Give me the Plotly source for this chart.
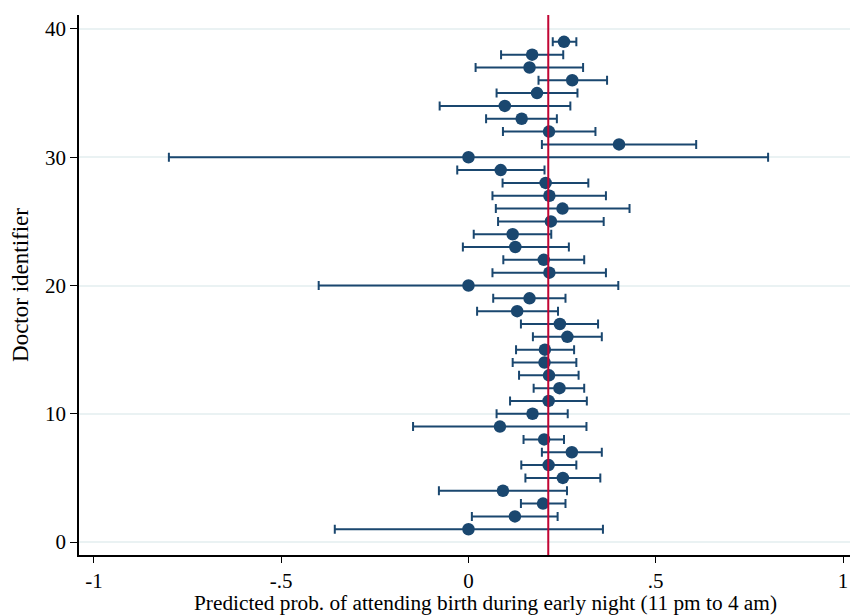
import plotly.graph_objects as go

doctor_ids = list(range(1, 40))
estimates = [0.000, 0.124, 0.199, 0.092, 0.252, 0.214, 0.276, 0.202, 0.084, 0.171,
             0.214, 0.243, 0.215, 0.203, 0.204, 0.264, 0.244, 0.130, 0.163, 0.000,
             0.216, 0.201, 0.125, 0.118, 0.220, 0.251, 0.216, 0.206, 0.086, 0.000,
             0.402, 0.215, 0.142, 0.097, 0.183, 0.277, 0.163, 0.170, 0.255]
lower_ci = [-0.357, 0.009, 0.140, -0.079, 0.152, 0.141, 0.196, 0.147, -0.148, 0.075,
            0.111, 0.174, 0.135, 0.118, 0.127, 0.172, 0.140, 0.023, 0.066, -0.400,
            0.064, 0.093, -0.015, 0.014, 0.079, 0.073, 0.064, 0.091, -0.030, -0.800,
            0.196, 0.092, 0.047, -0.077, 0.075, 0.187, 0.019, 0.087, 0.225]
upper_ci = [0.359, 0.238, 0.259, 0.263, 0.352, 0.288, 0.356, 0.255, 0.315, 0.265,
            0.316, 0.309, 0.294, 0.288, 0.282, 0.356, 0.346, 0.239, 0.259, 0.400,
            0.367, 0.309, 0.268, 0.221, 0.361, 0.430, 0.367, 0.320, 0.203, 0.800,
            0.608, 0.339, 0.236, 0.272, 0.291, 0.370, 0.306, 0.253, 0.288]
overall_mean = 0.213
x_ticks = [-1, -0.5, 0, 0.5, 1]
x_tick_labels = ["-1", "-.5", "0", ".5", "1"]
y_ticks = [0, 10, 20, 30, 40]
x_title = "Predicted prob. of attending birth during early night (11 pm to 4 am)"
y_title = "Doctor identifier"

navy = "#1a476f"
plus = [u - e for u, e in zip(upper_ci, estimates)]
minus = [e - l for e, l in zip(estimates, lower_ci)]

fig = go.Figure()
fig.add_trace(go.Scatter(
    x=estimates, y=doctor_ids, mode="markers",
    marker=dict(color=navy, size=12.5, line=dict(width=0)),
    error_x=dict(type="data", symmetric=False, array=plus, arrayminus=minus,
                 color=navy, thickness=2, width=4.5),
    showlegend=False,
))
fig.add_shape(type="line", xref="x", yref="paper", x0=overall_mean, x1=overall_mean,
              y0=0, y1=1, line=dict(color="#c10534", width=2), layer="above")

fig.add_annotation(text=x_title, xref="paper", yref="paper", x=0.5266, y=-0.1148,
                   xanchor="center", yanchor="bottom", showarrow=False,
                   font=dict(size=21.3))

font_family = "Liberation Serif, Times New Roman, serif"
fig.update_layout(
    width=850, height=616,
    margin=dict(l=79, r=0, t=15, b=61),
    paper_bgcolor="white", plot_bgcolor="white",
    font=dict(family=font_family, color="black", size=21),
    xaxis=dict(range=[-1.04, 1.0187], tickvals=x_ticks, ticktext=x_tick_labels,
               showgrid=False, zeroline=False, showline=True, linecolor="black",
               linewidth=1.5, ticks="outside", ticklen=6, tickcolor="black",
               tickfont=dict(size=21), automargin=False),
    yaxis=dict(range=[-1.01, 41.09], tickvals=y_ticks,
               showgrid=True, gridcolor="#eaf2f3", gridwidth=2, zeroline=False,
               showline=True, linecolor="black", linewidth=1.5,
               ticks="outside", ticklen=7, tickcolor="black",
               tickfont=dict(size=21), automargin=False,
               title=dict(text=y_title, font=dict(size=23), standoff=10)),
)

fig.write_html("out.html", config={"displayModeBar": False},
               post_script="document.body.style.margin='0';document.body.style.padding='0';")
